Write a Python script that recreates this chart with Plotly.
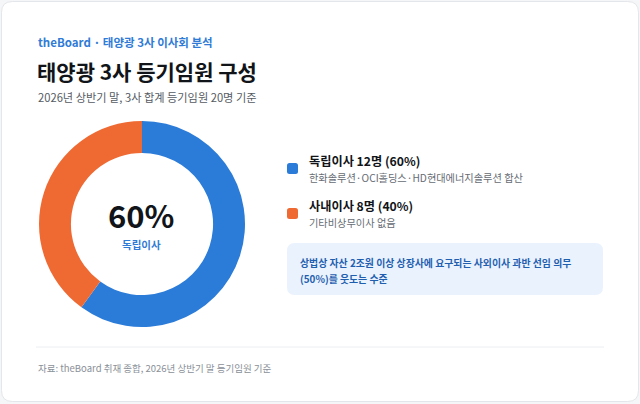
import plotly.graph_objects as go

# ---- data ----
categories = ["독립이사", "사내이사"]
counts = [12, 8]
shares = [60, 40]
notes = ["한화솔루션·OCI홀딩스·HD현대에너지솔루션 합산", "기타비상무이사 없음"]
colors = ["#2b7bd9", "#ef6a33"]

kicker = "theBoard · 태양광 3사 이사회 분석"
title = "태양광 3사 등기임원 구성"
subtitle = "2026년 상반기 말, 3사 합계 등기임원 20명 기준"
callout = ["상법상 자산 2조원 이상 상장사에 요구되는 사외이사 과반 선임 의무", "(50%)를 웃도는 수준"]
source = "자료: theBoard 취재 종합, 2026년 상반기 말 등기임원 기준"

W, H = 640, 404
FONT = "Noto Sans CJK KR"


def px(x):
    return x / W


def py(y):
    return 1 - y / H


def rrect(x0, y0, x1, y1, r):
    X = lambda v: px(v)
    Y = lambda v: py(v)
    return (f"M {X(x0+r)},{Y(y0)} L {X(x1-r)},{Y(y0)} "
            f"Q {X(x1)},{Y(y0)} {X(x1)},{Y(y0+r)} L {X(x1)},{Y(y1-r)} "
            f"Q {X(x1)},{Y(y1)} {X(x1-r)},{Y(y1)} L {X(x0+r)},{Y(y1)} "
            f"Q {X(x0)},{Y(y1)} {X(x0)},{Y(y1-r)} L {X(x0)},{Y(y0+r)} "
            f"Q {X(x0)},{Y(y0)} {X(x0+r)},{Y(y0)} Z")


fig = go.Figure()

cx, cy, R = 142, 224, 103
fig.add_trace(go.Pie(
    labels=categories, values=counts, hole=0.69,
    marker=dict(colors=colors, line=dict(width=0)),
    sort=False, direction="clockwise", rotation=0,
    textinfo="none", hoverinfo="label+value+percent",
    showlegend=False,
    domain=dict(x=[px(cx - R), px(cx + R)], y=[py(cy + R), py(cy - R)]),
))

shapes = []
shapes.append(dict(type="path", xref="paper", yref="paper",
                   path=rrect(1.5, 1.5, 638.5, 401.5, 11),
                   fillcolor="#ffffff", line=dict(color="#e3e6ea", width=1), layer="below"))
shapes.append(dict(type="line", xref="paper", yref="paper",
                   x0=px(36), x1=px(604), y0=py(347), y1=py(347),
                   line=dict(color="#eceef1", width=1)))
shapes.append(dict(type="path", xref="paper", yref="paper",
                   path=rrect(287, 243, 603, 295, 8),
                   fillcolor="#eaf2fd", line=dict(width=0), layer="below"))

ann = []


def text(x, y, s, size, color, bold=False, anchor="left"):
    ann.append(dict(x=px(x), y=py(y), xref="paper", yref="paper",
                    text=(f"<b>{s}</b>" if bold else s), showarrow=False,
                    xanchor=anchor, yanchor="middle",
                    font=dict(family=FONT, size=size, color=color)))


text(36, 42, kicker, 11.5, "#2f7bd6", bold=True)
text(35, 71, title, 21, "#111418", bold=True)
text(36, 97, subtitle, 11.2, "#555b63")

text(cx - 1, 214, f"{shares[0]}%", 31, "#111418", bold=True, anchor="center")
text(cx - 1, 244, categories[0], 10.5, "#2f7bd6", bold=True, anchor="center")

leg_y = [161, 206]
for i, cat in enumerate(categories):
    y = leg_y[i]
    shapes.append(dict(type="path", xref="paper", yref="paper",
                       path=rrect(287, y + 2, 298, y + 13, 2.5),
                       fillcolor=colors[i], line=dict(width=0)))
    text(307, y, f"{cat} {counts[i]}명 ({shares[i]}%)", 12.2, "#111418", bold=True)
    text(307, y + 16.5, notes[i], 10.2, "#666c74")

text(298, 263, callout[0], 9.9, "#1f5fb0", bold=True)
text(298, 278.5, callout[1], 9.9, "#1f5fb0", bold=True)

text(36, 368, source, 9.5, "#8a9098")

fig.update_layout(
    width=W, height=H,
    margin=dict(l=0, r=0, t=0, b=0),
    paper_bgcolor="#f5f6f8", plot_bgcolor="#ffffff",
    shapes=shapes, annotations=ann,
    font=dict(family=FONT),
)

fig.write_html("out.html", config={"displayModeBar": False},
               post_script="document.body.style.margin='0';document.body.style.padding='0';")
